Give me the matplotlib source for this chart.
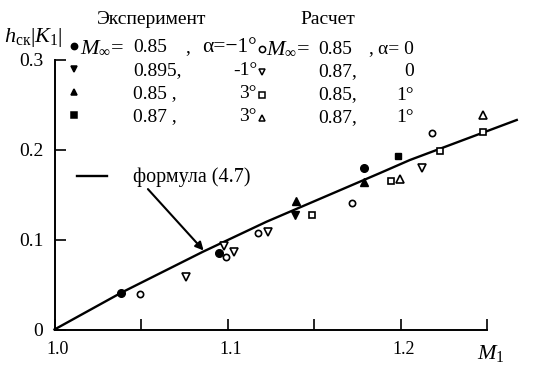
import matplotlib
matplotlib.use('Agg')
import matplotlib.pyplot as plt
from matplotlib.lines import Line2D
from matplotlib.transforms import ScaledTranslation

plt.rcParams['font.family'] = ['Liberation Serif', 'DejaVu Serif']
plt.rcParams['mathtext.fontset'] = 'custom'
plt.rcParams['mathtext.rm'] = 'Liberation Serif'
plt.rcParams['mathtext.it'] = 'Liberation Serif:italic'

# experiment (filled markers)
exp1_m = [1.0386, 1.0949, 1.1788]
exp1_h = [0.0409, 0.0847, 0.180]
exp2_m = [1.1389]
exp2_h = [0.127]
exp3_m = [1.1395, 1.1788]
exp3_h = [0.143, 0.1636]
exp4_m = [1.1983]
exp4_h = [0.1928]

# calculation (open markers)
calc1_m = [1.0496, 1.099, 1.1177, 1.1717, 1.218]
calc1_h = [0.0394, 0.0802, 0.1076, 0.1402, 0.218]
calc2_m = [1.0758, 1.098, 1.1036, 1.1235, 1.2122]
calc2_h = [0.0587, 0.0928, 0.0864, 0.1087, 0.179]
calc3_m = [1.149, 1.1943, 1.2228, 1.2479]
calc3_h = [0.127, 0.1653, 0.1983, 0.219]
calc4_m = [1.1997, 1.2479]
calc4_h = [0.1669, 0.2383]

# formula (4.7) curve
formula_m = [1.0, 1.0386, 1.0858, 1.1225, 1.188, 1.2054, 1.2672]
formula_h = [0.0, 0.0409, 0.0864, 0.1197, 0.1737, 0.1883, 0.2328]

exp_mach = ['0.85', '0.895,', '0.85 ,', '0.87 ,']
exp_alpha = ['α=−1°', '-1°', '3°', '3°']
calc_mach = ['0.85', '0.87,', '0.85,', '0.87,']
calc_alpha = ['α= 0', '0', '1°', '1°']

x_ticks = [1.0, 1.05, 1.1, 1.15, 1.2, 1.25]
x_labels = ['1.0', '', '1.1', '', '1.2', '']
y_ticks = [0, 0.1, 0.2, 0.3]
y_labels = ['0', '0.1', '0.2', '0.3']

W, H = 533, 374


def fp(x, y):
    return x / W, 1 - y / H


fig = plt.figure(figsize=(W / 100, H / 100), dpi=100)
ax = fig.add_axes([54.5 / W, (H - 329.5) / H, (487 - 54.5) / W, (329.5 - 59.5) / H])

ax.plot(formula_m, formula_h, color='black', lw=1.7, clip_on=False)

filled = dict(color='black', ls='none', clip_on=False)
ax.plot(exp1_m, exp1_h, marker='o', ms=5.5, **filled)
ax.plot(exp2_m, exp2_h, marker='v', ms=6, **filled)
ax.plot(exp3_m, exp3_h, marker='^', ms=6, **filled)
ax.plot(exp4_m, exp4_h, marker='s', ms=4.5, **filled)

hollow = dict(color='black', mfc='white', mew=1.2, ls='none', clip_on=False)
ax.plot(calc1_m, calc1_h, marker='o', ms=4.5, **hollow)
ax.plot(calc2_m, calc2_h, marker='v', ms=6, **hollow)
ax.plot(calc3_m, calc3_h, marker='s', ms=5, **hollow)
ax.plot(calc4_m, calc4_h, marker='^', ms=6, **hollow)

ax.set_xlim(1.0, 1.25)
ax.set_ylim(0, 0.3)
for side in ['top', 'right']:
    ax.spines[side].set_visible(False)
for side in ['left', 'bottom']:
    ax.spines[side].set_linewidth(1.4)

ax.set_xticks(x_ticks)
ax.set_xticklabels(x_labels, fontsize=13)
ax.set_yticks(y_ticks)
ax.set_yticklabels(y_labels, fontsize=14)
ax.tick_params(axis='both', direction='in', length=8, width=1.2, pad=8)
shift = ScaledTranslation(3 / 100, 0, fig.dpi_scale_trans)
for lab in ax.get_xticklabels():
    lab.set_transform(lab.get_transform() + shift)

# arrow to the curve
ax.annotate('', xy=(1.0862, 0.0878), xytext=(1.054, 0.156),
            arrowprops=dict(arrowstyle='-|>', color='black', lw=1.5,
                            mutation_scale=12, shrinkA=0, shrinkB=0))

# texts around the axes
fig.text(*fp(4, 42), r'$h_{\mathrm{ск}}|K_1|$', fontsize=16, va='baseline')
fig.text(*fp(477, 359), r'$M_1$', fontsize=16, va='baseline')
fig.text(*fp(133, 182), 'формула (4.7)', fontsize=14.5, va='baseline')
fig.add_artist(Line2D([77 / W, 107 / W], [1 - 175.7 / H] * 2, color='black', lw=1.7))

# hand made legend
fig.text(*fp(97, 24), 'Эксперимент', fontsize=14, va='baseline')
fig.text(*fp(300, 24), 'Расчет', fontsize=14, va='baseline')

baselines = [52, 75, 98, 121]
exp_marks = [dict(marker='o', mfc='black'), dict(marker='v', mfc='black'),
             dict(marker='^', mfc='black'), dict(marker='s', mfc='black')]
calc_marks = [dict(marker='o', mfc='white'), dict(marker='v', mfc='white'),
              dict(marker='s', mfc='white'), dict(marker='^', mfc='white')]

for i, b in enumerate(baselines):
    x, y = fp(73.5, b - 6.5)
    fig.add_artist(Line2D([x], [y], color='black', ms=4.5, mew=1.1, ls='none', **exp_marks[i]))
    fig.text(*fp(133, b), exp_mach[i], fontsize=14, va='baseline')
    fig.text(*fp(257, b), exp_alpha[i], fontsize=15.5 if i == 0 else 14,
             va='baseline', ha='right')

    x, y = fp(262, b - 3.5)
    fig.add_artist(Line2D([x], [y], color='black', ms=4.5, mew=1.1, ls='none', **calc_marks[i]))
    fig.text(*fp(318, b + 1.5), calc_mach[i], fontsize=14, va='baseline')
    fig.text(*fp(414, b + 1.5), calc_alpha[i], fontsize=14, va='baseline', ha='right')

# first-row prefixes and commas
fig.text(*fp(80, 52), r'$M_{\infty}$=', fontsize=16, va='baseline')
fig.text(*fp(185, 52), ',', fontsize=14, va='baseline')
fig.text(*fp(266, 53.5), r'$M_{\infty}$=', fontsize=16, va='baseline')
fig.text(*fp(368, 53.5), ',', fontsize=14, va='baseline')

fig.savefig('out.png', dpi=100)
